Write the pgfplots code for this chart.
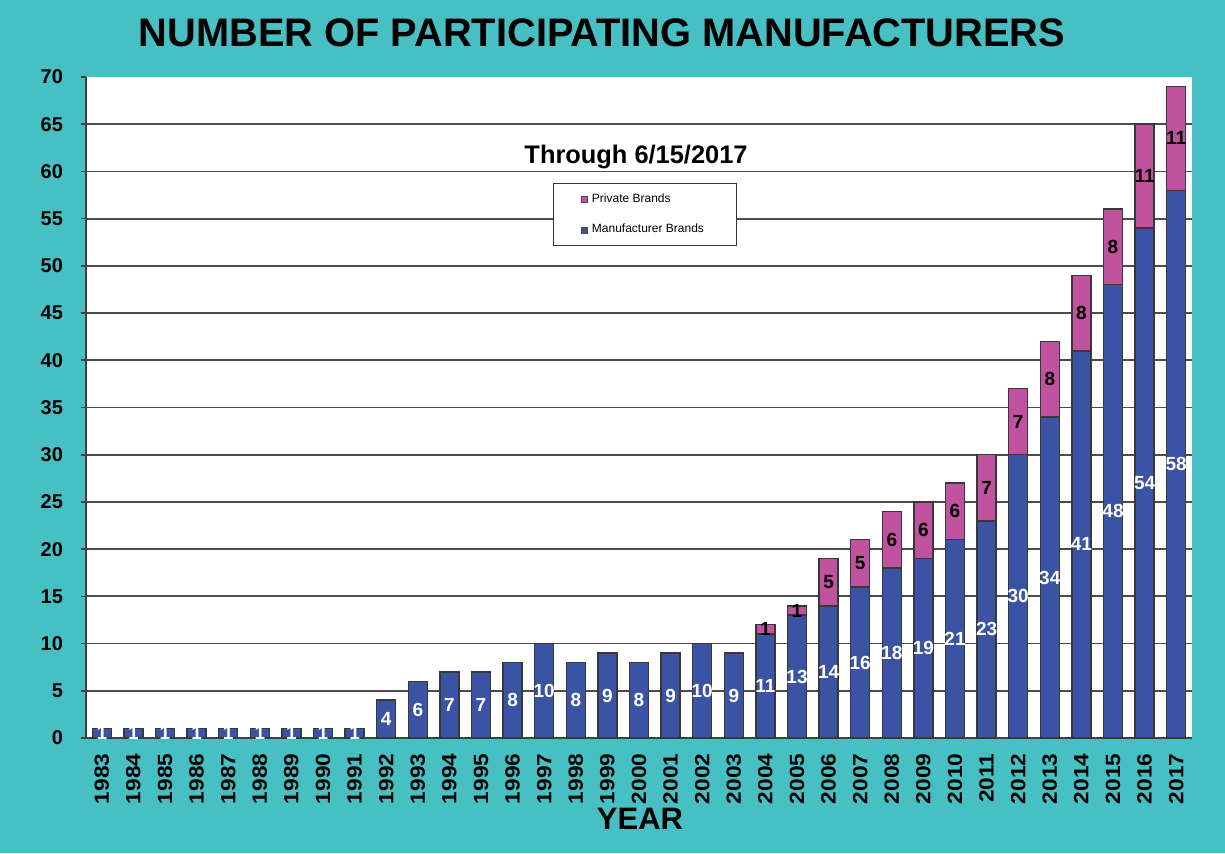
\documentclass[border=0pt]{standalone}
\usepackage{pgfplots}
\pgfplotsset{compat=1.18}
\usepackage{pgfplotstable}
\usepackage{fontspec}
\setmainfont{Liberation Sans}
\definecolor{bgteal}{HTML}{47C0C4}
\definecolor{manblue}{HTML}{3A53A4}
\definecolor{privpink}{HTML}{C052A0}
\pgfplotstableread{
x year man priv
0 1983 1 0
1 1984 1 0
2 1985 1 0
3 1986 1 0
4 1987 1 0
5 1988 1 0
6 1989 1 0
7 1990 1 0
8 1991 1 0
9 1992 4 0
10 1993 6 0
11 1994 7 0
12 1995 7 0
13 1996 8 0
14 1997 10 0
15 1998 8 0
16 1999 9 0
17 2000 8 0
18 2001 9 0
19 2002 10 0
20 2003 9 0
21 2004 11 1
22 2005 13 1
23 2006 14 5
24 2007 16 5
25 2008 18 6
26 2009 19 6
27 2010 21 6
28 2011 23 7
29 2012 30 7
30 2013 34 8
31 2014 41 8
32 2015 48 8
33 2016 54 11
34 2017 58 11
}\datatable
\begin{document}
\begin{tikzpicture}
\fill[bgteal] (0,0) rectangle (612.5pt,426.5pt);
\begin{axis}[
  at={(43pt,57.5pt)}, anchor=south west,
  scale only axis, width=553pt, height=330.5pt,
  ybar stacked, bar width=0.6,
  xmin=-0.5, xmax=34.5, ymin=0, ymax=70,
  axis background/.style={fill=white},
  axis x line*=bottom, axis y line*=left,
  axis line style={black!75, line width=1pt},
  xtick={0,...,34},
  xticklabels from table={\datatable}{year},
  xtick style={draw=none},
  ytick={0,5,...,65},
  extra y ticks={70},
  extra y tick style={grid=none},
  ymajorgrids,
  grid style={black!70, line width=0.9pt},
  tick align=outside,
  major tick length=2.5pt,
  ytick style={black!75, line width=0.8pt},
  /pgf/number format/assume math mode=true,
  yticklabel style={font=\bfseries\fontsize{10}{11}\selectfont, xshift=-5.5pt},
  xticklabel style={font=\bfseries\fontsize{10.3}{12}\selectfont, yshift=-1.5pt, rotate=90, xscale=1.1, anchor=east},
  nodes near coords align=center,
  legend style={at={(0.4222,0.8397)}, anchor=north west, draw=black!80, fill=white,
    font=\fontsize{6}{7}\selectfont, inner xsep=14pt, inner ysep=3pt, row sep=5.5pt},
  legend cell align=left,
  legend image code/.code={\draw[#1, draw=black!70, line width=0.3pt] (0pt,-1.5pt) rectangle (3pt,1.5pt);},
  reverse legend,
]
\addplot[fill=manblue, draw=black!78, line width=0.75pt,
  point meta=explicit,
  nodes near coords={\pgfmathprintnumber{\pgfplotspointmeta}},
  every node near coord/.append style={text=white, font=\bfseries\fontsize{9.5}{10}\selectfont}]
  table[x=x, y=man, meta=man] {\datatable};
\addlegendentry{Manufacturer Brands}
\addplot[fill=privpink, draw=black!78, line width=0.75pt,
  point meta=explicit,
  nodes near coords={\pgfmathfloatifflags{\pgfplotspointmeta}{0}{}{\pgfmathprintnumber{\pgfplotspointmeta}}},
  every node near coord/.append style={text=black, font=\bfseries\fontsize{9.5}{10}\selectfont}]
  table[x=x, y=priv, meta=priv] {\datatable};
\addlegendentry{Private Brands}
\node[font=\bfseries\fontsize{12.7}{14}\selectfont] at (rel axis cs:0.4973,0.879) {Through 6/15/2017};
\end{axis}
\node[font=\bfseries\fontsize{19.9}{22}\selectfont] at (301pt,410pt) {NUMBER OF PARTICIPATING MANUFACTURERS};
\node[font=\bfseries\fontsize{15.5}{18}\selectfont] at (320pt,17pt) {YEAR};
\pgfresetboundingbox
\useasboundingbox (0,0) rectangle (612.5pt,426.5pt);
\end{tikzpicture}
\end{document}
